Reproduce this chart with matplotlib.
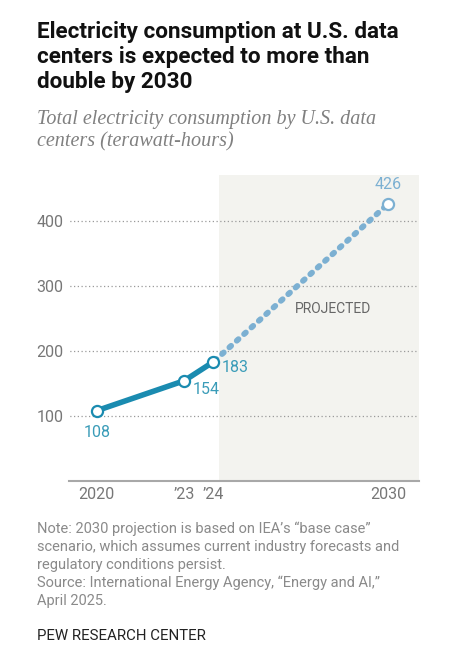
import matplotlib
matplotlib.use("Agg")
import matplotlib.pyplot as plt

years = [2020, 2023, 2024]
values = [108, 154, 183]
proj_years = [2024, 2030]
proj_values = [183, 426]
tick_years = [2020, 2023, 2024, 2030]
tick_labels = ["2020", "\u201923", "\u201924", "2030"]
y_ticks = [100, 200, 300, 400]

title = "Electricity consumption at U.S. data\ncenters is expected to more than\ndouble by 2030"
subtitle = "Total electricity consumption by U.S. data\ncenters (terawatt-hours)"
note = ("Note: 2030 projection is based on IEA\u2019s \u201cbase case\u201d\n"
        "scenario, which assumes current industry forecasts and\n"
        "regulatory conditions persist.\n"
        "Source: International Energy Agency, \u201cEnergy and AI,\u201d\n"
        "April 2025.")

solid_c = "#1a8bb0"
dash_c = "#7cb0d2"
lab_c = "#3a9cb8"
W, H = 464, 662
fig = plt.figure(figsize=(W/100, H/100), dpi=100)
fig.patch.set_facecolor("white")

ax = fig.add_axes([69.3/W, 1-481/H, 350/W, 306/H])
ax.set_xlim(2019.06, 2031.06)
ax.set_ylim(0, 470)
ax.axvspan(2024.2, 2031.06, color="#f3f3ef", zorder=0, lw=0)
for yv in y_ticks:
    ax.axhline(yv, color="#9a9a9a", lw=0.9, ls=(0, (1, 2)), zorder=1, xmin=-0.008)

ax.plot(years, values, color=solid_c, lw=4.0, solid_capstyle="round", zorder=3)
ax.plot(proj_years, proj_values, color=dash_c, lw=4.2, ls=(1.4, (0.4, 1.3)),
        dash_capstyle="round", zorder=2)
ax.plot(years, values, ls="none", marker="o", ms=8, mfc="white", mec=solid_c, mew=1.6, zorder=4)
ax.plot(proj_years[1:], proj_values[1:], ls="none", marker="o", ms=8, mfc="white", mec=dash_c, mew=1.6, zorder=4)

fs_lab = 11.5
ax.annotate(str(values[0]), (years[0], values[0]), xytext=(0, -16), textcoords="offset points",
            ha="center", va="center", color=lab_c, fontsize=fs_lab, family="Roboto")
ax.annotate(str(values[1]), (years[1], values[1]), xytext=(6, -6), textcoords="offset points",
            ha="left", va="center", color=lab_c, fontsize=fs_lab, family="Roboto")
ax.annotate(str(values[2]), (years[2], values[2]), xytext=(6, -4), textcoords="offset points",
            ha="left", va="center", color=lab_c, fontsize=fs_lab, family="Roboto")
ax.annotate(str(proj_values[1]), (proj_years[1], proj_values[1]), xytext=(0, 14), textcoords="offset points",
            ha="center", va="center", color=dash_c, fontsize=fs_lab, family="Roboto")
ax.text(2028.1, 264, "PROJECTED", ha="center", va="center", color="#666666", fontsize=10, family="Roboto")

ax.set_xticks(tick_years)
ax.set_xticklabels(tick_labels)
ax.set_yticks(y_ticks)
ax.tick_params(length=0, labelsize=11.5, colors="#777777", pad=4)
for lab in ax.get_xticklabels() + ax.get_yticklabels():
    lab.set_family("Roboto")
for s in ["top", "right", "left"]:
    ax.spines[s].set_visible(False)
ax.spines["bottom"].set_color("#a8a8a8")
ax.spines["bottom"].set_linewidth(1.5)

fig.text(37/W, 1-21/H, title, ha="left", va="top", fontsize=16.2, fontweight="bold",
         family="Roboto", color="#111111", linespacing=1.17)
fig.text(37/W, 1-110/H, subtitle, ha="left", va="top", fontsize=14.5, style="italic",
         family="Liberation Serif", color="#808080", linespacing=1.22)
fig.text(37/W, 1-522/H, note, ha="left", va="top", fontsize=10.5, family="Roboto",
         color="#8a8a8a", linespacing=1.33)
fig.text(37/W, 1-636/H, "PEW RESEARCH CENTER", ha="left", va="center", fontsize=10.8,
         family="Roboto", color="#222222")

fig.savefig("out.png", dpi=100, facecolor="white")
